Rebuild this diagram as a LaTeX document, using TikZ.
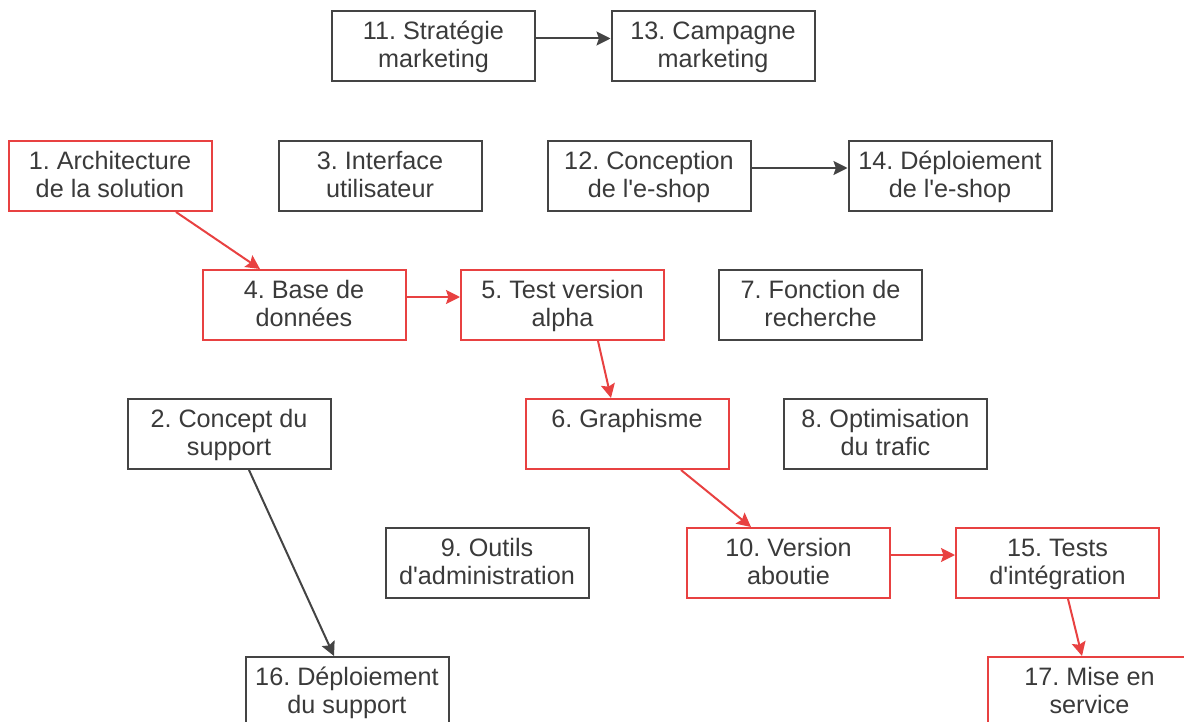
\documentclass[tikz,border=0pt]{standalone}
\usepackage{fontspec}
\setmainfont{Liberation Sans}
\usepackage{tikz}
\usetikzlibrary{arrows.meta}
\definecolor{boxgray}{HTML}{444444}
\definecolor{critred}{HTML}{E84141}
\definecolor{txtgray}{HTML}{3A3A3A}
\newcommand{\apos}{\textquotesingle}
\newcommand{\twoline}[2]{\raisebox{-0.8pt}[\height][\depth]{\begin{tabular}{@{}c@{}}#1\\#2\end{tabular}}}
\frenchspacing

\begin{document}
\begin{tikzpicture}[x=0.5pt, y=-0.5pt,
        task/.style={draw=boxgray, line width=1pt, rectangle, minimum width=101.5pt, minimum height=35pt, inner sep=0pt, text=txtgray, font=\fontsize{12.6pt}{14.2pt}\selectfont},
        crit/.style={task, draw=critred},
        link/.style={-{Stealth[length=7pt, width=7pt, inset=1.2pt]}, line width=1pt, draw=boxgray, fill=boxgray},
        critlink/.style={link, draw=critred, fill=critred}]
        \useasboundingbox (0,0) rectangle (1184,722);

        % Top row - marketing
        \node[task] (strat) at (433.5,46.5) {\twoline{11. Stratégie}{marketing}};
        \node[task] (campagne) at (713,46.5) {\twoline{13. Campagne}{marketing}};

        % Second row
        \node[crit] (archi) at (110,176) {\twoline{1. Architecture}{de la solution}};
        \node[task] (interface) at (380,176) {\twoline{3. Interface}{utilisateur}};
        \node[task] (conception) at (649,176) {\twoline{12. Conception}{de l\apos e-shop}};
        \node[task] (deployshop) at (950,176) {\twoline{14. Déploiement}{de l\apos e-shop}};

        % Third row
        \node[crit] (base) at (304,305) {\twoline{4. Base de}{données}};
        \node[crit] (alpha) at (562.5,305) {\twoline{5. Test version}{alpha}};
        \node[task] (recherche) at (820.5,305) {\twoline{7. Fonction de}{recherche}};

        % Fourth row
        \node[task] (concept) at (229,434) {\twoline{2. Concept du}{support}};
        \node[crit] (graph) at (627,434) {\twoline{6. Graphisme}{\mbox{}}};
        \node[task] (trafic) at (885.5,434) {\twoline{8. Optimisation}{du trafic}};

        % Fifth row
        \node[task] (outils) at (487,563) {\twoline{9. Outils}{d\apos administration}};
        \node[crit] (aboutie) at (788.5,563) {\twoline{10. Version}{aboutie}};
        \node[crit] (integ) at (1057.5,563) {\twoline{15. Tests}{d\apos intégration}};

        % Bottom row (cut by the frame)
        \node[task] (deploysupport) at (347,692) {\twoline{16. Déploiement}{du support}};
        \node[crit] (service) at (1089.5,692) {\twoline{17. Mise en}{service}};

        % Connectors
        \draw[link] ([yshift=4pt]strat.east) -- ([yshift=4pt]campagne.west);
        \draw[link] ([yshift=4pt]conception.east) -- ([yshift=4pt]deployshop.west);
        \draw[link] ([xshift=10pt]concept.south) -- ([xshift=-6.5pt]deploysupport.north);

        % Critical path
        \draw[critlink] ([xshift=33pt]archi.south) -- ([xshift=-22pt]base.north);
        \draw[critlink] ([yshift=4pt]base.east) -- ([yshift=4pt]alpha.west);
        \draw[critlink] ([xshift=17.75pt]alpha.south) -- ([xshift=-8pt]graph.north);
        \draw[critlink] ([xshift=27pt]graph.south) -- ([xshift=-18.75pt]aboutie.north);
        \draw[critlink] ([yshift=4pt]aboutie.east) -- ([yshift=4pt]integ.west);
        \draw[critlink] ([xshift=5.25pt]integ.south) -- ([xshift=-3.75pt]service.north);
    \end{tikzpicture}
\end{document}
